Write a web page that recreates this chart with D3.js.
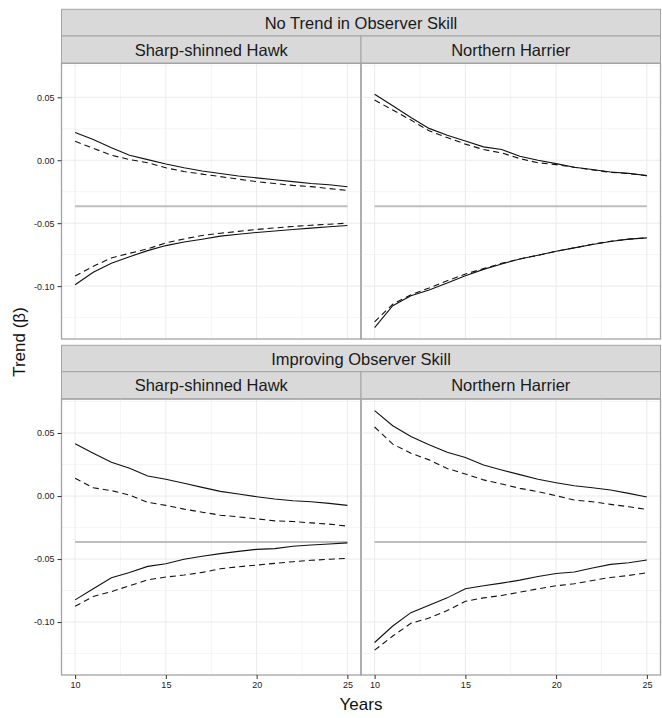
<!DOCTYPE html>
<html>
<head>
<meta charset="utf-8">
<script src="https://cdn.jsdelivr.net/npm/d3@7"></script>
<style>
  html, body { margin: 0; padding: 0; background: #fff; }
  svg { display: block; font-family: "Liberation Sans", Arial, sans-serif; }
</style>
</head>
<body>
<svg id="chart" width="662" height="718"></svg>
<script>
// ---------------- data ----------------
const years = [10, 11, 12, 13, 14, 15, 16, 17, 18, 19, 20, 21, 22, 23, 24, 25];
const rowLabels = ["No Trend in Observer Skill", "Improving Observer Skill"];
const colLabels = ["Sharp-shinned Hawk", "Northern Harrier"];
const referenceTrend = -0.0365;
const xTicks = [10, 15, 20, 25];
const yTicks = [-0.10, -0.05, 0.00, 0.05];
const yTickLabels = ["-0.10", "-0.05", "0.00", "0.05"];

// No trend – Sharp-shinned Hawk
const noTrendSSH_upperSolid = [0.022, 0.0165, 0.010, 0.004, 0.0005, -0.003, -0.006, -0.0085, -0.0105, -0.0125, -0.014, -0.0155, -0.017, -0.0185, -0.0195, -0.021];
const noTrendSSH_upperDashed = [0.015, 0.0095, 0.004, 0.0005, -0.002, -0.006, -0.009, -0.011, -0.013, -0.015, -0.017, -0.0185, -0.020, -0.021, -0.0225, -0.024];
const noTrendSSH_lowerSolid = [-0.0989, -0.089, -0.0819, -0.0766, -0.0718, -0.0678, -0.065, -0.0627, -0.0603, -0.0588, -0.0574, -0.0562, -0.055, -0.0539, -0.0528, -0.0518];
const noTrendSSH_lowerDashed = [-0.092, -0.0843, -0.0776, -0.0739, -0.0704, -0.0657, -0.0625, -0.0598, -0.058, -0.0565, -0.055, -0.0538, -0.0526, -0.0517, -0.0508, -0.050];

// No trend – Northern Harrier
const noTrendNH_upperSolid = [0.0524, 0.0433, 0.034, 0.0253, 0.0199, 0.0152, 0.0106, 0.0085, 0.0032, 0.0, -0.0027, -0.0056, -0.0074, -0.0093, -0.0104, -0.0122];
const noTrendNH_upperDashed = [0.0478, 0.0399, 0.0319, 0.0234, 0.018, 0.0128, 0.0085, 0.0058, 0.0013, -0.002, -0.0035, -0.0056, -0.0077, -0.0096, -0.0106, -0.0122];
const noTrendNH_lowerSolid = [-0.1329, -0.1156, -0.1077, -0.1031, -0.0976, -0.0917, -0.0867, -0.0824, -0.0784, -0.0755, -0.0723, -0.0696, -0.067, -0.0646, -0.0627, -0.0617];
const noTrendNH_lowerDashed = [-0.1284, -0.1143, -0.1069, -0.1015, -0.0957, -0.0904, -0.0861, -0.0819, -0.0784, -0.0755, -0.0723, -0.0696, -0.0667, -0.0643, -0.0627, -0.0617];

// Improving – Sharp-shinned Hawk
const improvingSSH_upperSolid = [0.0415, 0.034, 0.0268, 0.0221, 0.0159, 0.0133, 0.0101, 0.0069, 0.0037, 0.0016, -0.0005, -0.0024, -0.0037, -0.0045, -0.0058, -0.0074];
const improvingSSH_upperDashed = [0.0141, 0.0066, 0.0043, 0.0008, -0.005, -0.0074, -0.0104, -0.0128, -0.0152, -0.0165, -0.0181, -0.0197, -0.0202, -0.0213, -0.0223, -0.0239];
const improvingSSH_lowerSolid = [-0.0824, -0.0736, -0.0649, -0.0606, -0.0558, -0.0537, -0.0502, -0.0478, -0.0457, -0.0439, -0.0423, -0.0417, -0.0399, -0.0388, -0.038, -0.0372];
const improvingSSH_lowerDashed = [-0.0875, -0.0797, -0.0758, -0.0712, -0.0665, -0.0643, -0.0627, -0.0606, -0.0577, -0.0561, -0.0548, -0.0534, -0.0521, -0.051, -0.0502, -0.0494];

// Improving – Northern Harrier
const improvingNH_upperSolid = [0.0678, 0.0558, 0.0473, 0.0407, 0.0348, 0.0306, 0.0247, 0.0207, 0.017, 0.0133, 0.0106, 0.0082, 0.0066, 0.0048, 0.0021, -0.0008];
const improvingNH_upperDashed = [0.0548, 0.0412, 0.034, 0.0287, 0.0218, 0.0175, 0.0128, 0.0096, 0.0061, 0.0035, 0.0003, -0.0032, -0.0045, -0.0066, -0.0085, -0.0106];
const improvingNH_lowerSolid = [-0.1162, -0.1031, -0.0925, -0.0867, -0.0808, -0.0736, -0.0712, -0.0691, -0.0667, -0.0638, -0.0614, -0.0603, -0.0571, -0.0542, -0.0529, -0.0508];
const improvingNH_lowerDashed = [-0.1223, -0.1111, -0.101, -0.0968, -0.0909, -0.0835, -0.0808, -0.0789, -0.0763, -0.0736, -0.0712, -0.0696, -0.067, -0.0646, -0.063, -0.0609];

const panels = [
  { row: 0, col: 0, series: [noTrendSSH_upperSolid, noTrendSSH_upperDashed, noTrendSSH_lowerSolid, noTrendSSH_lowerDashed] },
  { row: 0, col: 1, series: [noTrendNH_upperSolid, noTrendNH_upperDashed, noTrendNH_lowerSolid, noTrendNH_lowerDashed] },
  { row: 1, col: 0, series: [improvingSSH_upperSolid, improvingSSH_upperDashed, improvingSSH_lowerSolid, improvingSSH_lowerDashed] },
  { row: 1, col: 1, series: [improvingNH_upperSolid, improvingNH_upperDashed, improvingNH_lowerSolid, improvingNH_lowerDashed] }
];
const seriesDash = [null, "6,4", null, "6,4"];

// ---------------- layout ----------------
const svg = d3.select("#chart");
const colX = [[61.5, 361], [361, 660.5]];
const rowY = [
  { s1: 9.3, s2: 36, p0: 63.3, p1: 339 },
  { s1: 345.3, s2: 371.7, p0: 399, p1: 675 }
];
const borderCol = "#a3a3a3";
const stripFill = "#d9d9d9";

const yDomain = [-0.142, 0.077];
const xDomain = [9.25, 25.75];
const yMinor = [-0.125, -0.075, -0.025, 0.025, 0.075];
const xMinor = [12.5, 17.5, 22.5];

rowY.forEach((r, ri) => {
  const full0 = colX[0][0], full1 = colX[1][1];
  // row strip
  svg.append("rect").attr("x", full0).attr("y", r.s1).attr("width", full1 - full0).attr("height", r.s2 - r.s1)
    .attr("fill", stripFill).attr("stroke", borderCol).attr("stroke-width", 1);
  svg.append("text").attr("x", (full0 + full1) / 2).attr("y", (r.s1 + r.s2) / 2 + 6)
    .attr("text-anchor", "middle").attr("font-size", 16.5).attr("fill", "#1a1a1a").text(rowLabels[ri]);
  colX.forEach((c, ci) => {
    svg.append("rect").attr("x", c[0]).attr("y", r.s2).attr("width", c[1] - c[0]).attr("height", r.p0 - r.s2)
      .attr("fill", stripFill).attr("stroke", borderCol).attr("stroke-width", 1);
    svg.append("text").attr("x", (c[0] + c[1]) / 2).attr("y", (r.s2 + r.p0) / 2 + 6)
      .attr("text-anchor", "middle").attr("font-size", 16.5).attr("fill", "#1a1a1a").text(colLabels[ci]);
  });
});

panels.forEach(p => {
  const r = rowY[p.row], c = colX[p.col];
  const x = d3.scaleLinear().domain(xDomain).range([c[0], c[1]]);
  const y = d3.scaleLinear().domain(yDomain).range([r.p1, r.p0]);
  const g = svg.append("g");

  // minor grid
  g.selectAll(".ymin").data(yMinor).enter().append("line")
    .attr("x1", c[0]).attr("x2", c[1]).attr("y1", d => y(d)).attr("y2", d => y(d))
    .attr("stroke", "#f5f5f5").attr("stroke-width", 1);
  g.selectAll(".xmin").data(xMinor).enter().append("line")
    .attr("y1", r.p0).attr("y2", r.p1).attr("x1", d => x(d)).attr("x2", d => x(d))
    .attr("stroke", "#f5f5f5").attr("stroke-width", 1);
  // major grid
  g.selectAll(".ymaj").data(yTicks).enter().append("line")
    .attr("x1", c[0]).attr("x2", c[1]).attr("y1", d => y(d)).attr("y2", d => y(d))
    .attr("stroke", "#ebebeb").attr("stroke-width", 1);
  g.selectAll(".xmaj").data(xTicks).enter().append("line")
    .attr("y1", r.p0).attr("y2", r.p1).attr("x1", d => x(d)).attr("x2", d => x(d))
    .attr("stroke", "#ebebeb").attr("stroke-width", 1);

  // reference line
  g.append("line").attr("x1", x(years[0])).attr("x2", x(years[years.length - 1]))
    .attr("y1", y(referenceTrend)).attr("y2", y(referenceTrend))
    .attr("stroke", "#bebebe").attr("stroke-width", 2);

  const line = d3.line().x((d, i) => x(years[i])).y(d => y(d));
  p.series.forEach((s, si) => {
    const path = g.append("path").attr("d", line(s)).attr("fill", "none")
      .attr("stroke", "#111").attr("stroke-width", 1.1);
    if (seriesDash[si]) path.attr("stroke-dasharray", seriesDash[si]);
  });

  // panel border
  g.append("rect").attr("x", c[0]).attr("y", r.p0).attr("width", c[1] - c[0]).attr("height", r.p1 - r.p0)
    .attr("fill", "none").attr("stroke", borderCol).attr("stroke-width", 1.3);

  // y axis on left column
  if (p.col === 0) {
    const ax = d3.axisLeft(y).tickValues(yTicks).tickSize(4).tickPadding(3)
      .tickFormat((d, i) => yTickLabels[i]);
    const ag = svg.append("g").attr("transform", `translate(${c[0]},0)`).call(ax);
    ag.select(".domain").remove();
    ag.selectAll("line").attr("stroke", "#333");
    ag.selectAll("text").attr("font-size", 9).attr("fill", "#222")
      .attr("font-family", "Liberation Sans, Arial, sans-serif");
  }
  // x axis on bottom row
  if (p.row === 1) {
    const ax = d3.axisBottom(x).tickValues(xTicks).tickSize(4).tickPadding(3).tickFormat(d3.format("d"));
    const ag = svg.append("g").attr("transform", `translate(0,${r.p1})`).call(ax);
    ag.select(".domain").remove();
    ag.selectAll("line").attr("stroke", "#333");
    ag.selectAll("text").attr("font-size", 9).attr("fill", "#222")
      .attr("font-family", "Liberation Sans, Arial, sans-serif");
  }
});

// axis titles
svg.append("text").attr("x", 361).attr("y", 710).attr("text-anchor", "middle")
  .attr("font-size", 17).attr("fill", "#111").text("Years");
svg.append("text").attr("transform", "translate(25,342) rotate(-90)").attr("text-anchor", "middle")
  .attr("font-size", 17).attr("fill", "#111").text("Trend (β)");
</script>
</body>
</html>
